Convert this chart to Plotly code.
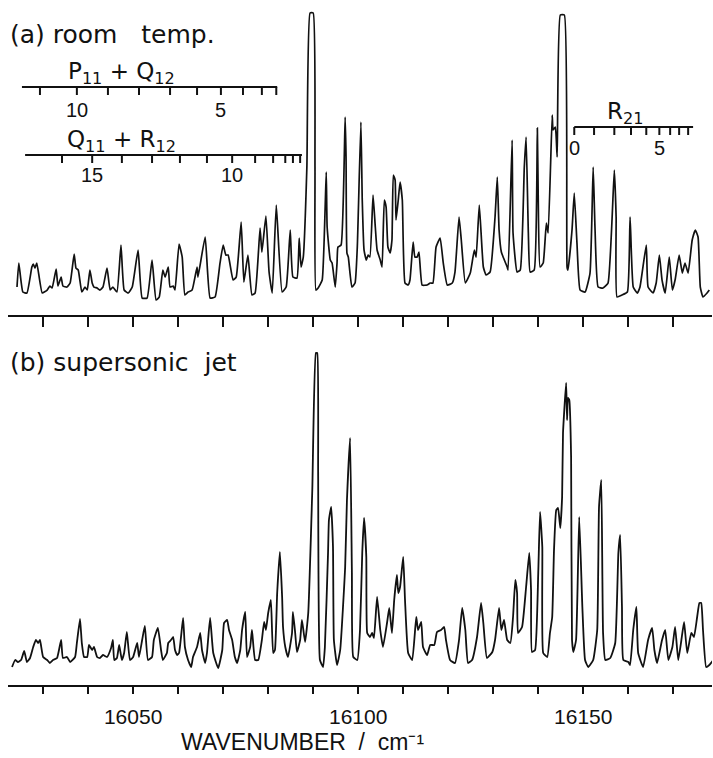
import plotly.graph_objects as go

# ---------------- data ----------------
# (a) room temperature spectrum: wavenumber (cm-1) and intensity (arb. units)
wn_a = [
    16024.2, 16024.6, 16025.5, 16026.4, 16027.5, 16027.8, 16028.2, 16028.6, 16029.8, 16030.9,
    16031.5, 16032.0, 16032.9, 16033.3, 16034.0, 16034.4, 16035.3, 16036.0, 16036.9, 16037.3,
    16037.8, 16038.6, 16039.3, 16039.8, 16040.4, 16040.9, 16041.3, 16042.0, 16042.6, 16043.3,
    16044.2, 16044.9, 16045.5, 16046.4, 16047.3, 16048.0, 16048.9, 16049.8, 16051.1, 16052.0,
    16053.1, 16054.2, 16055.1, 16055.8, 16056.6, 16057.1, 16057.8, 16058.2, 16058.9, 16059.3,
    16060.2, 16060.9, 16061.5, 16062.2, 16063.1, 16064.2, 16064.4, 16066.0, 16067.1, 16068.2,
    16069.3, 16070.0, 16070.6, 16071.1, 16072.2, 16072.9, 16074.0, 16074.6, 16075.5, 16076.4,
    16077.1, 16078.2, 16078.6, 16079.5, 16080.2, 16080.9, 16081.8, 16083.1, 16084.0, 16084.9,
    16085.5, 16086.4, 16086.9, 16087.3, 16087.8, 16088.6, 16089.3, 16090.0, 16090.4, 16090.6,
    16091.1, 16092.0, 16092.9, 16093.1, 16093.8, 16094.2, 16094.9, 16095.3, 16095.5, 16096.2,
    16097.1, 16097.3, 16097.5, 16097.8, 16098.6, 16099.3, 16099.8, 16100.6, 16100.9, 16101.3,
    16101.8, 16102.2, 16102.6, 16103.3, 16103.8, 16104.2, 16104.9, 16105.3, 16105.8, 16106.2,
    16106.6, 16107.1, 16107.5, 16107.8, 16108.2, 16108.4, 16108.9, 16109.3, 16109.8, 16110.4,
    16111.1, 16111.5, 16112.2, 16112.6, 16113.1, 16113.5, 16114.2, 16115.3, 16116.0, 16116.6, 16117.3,
    16118.2, 16118.9, 16119.8, 16120.9, 16121.5, 16122.4, 16122.9, 16123.8, 16124.9, 16125.8,
    16126.2, 16126.9, 16127.8, 16128.4, 16129.3, 16130.4, 16130.9, 16131.3, 16131.8, 16132.2,
    16133.1, 16133.3, 16134.2, 16134.4, 16135.3, 16136.0, 16136.9, 16137.3, 16137.8, 16138.2,
    16139.1, 16139.8, 16140.0, 16140.4, 16141.1, 16141.8, 16142.2, 16143.1, 16143.3, 16143.8,
    16144.2, 16144.9, 16145.8, 16146.4, 16146.6, 16147.5, 16148.0, 16148.6, 16149.3, 16150.4,
    16151.5, 16152.2, 16152.6, 16153.3, 16154.4, 16155.5, 16156.9, 16157.3, 16157.5, 16158.6,
    16159.8, 16160.4, 16161.1, 16162.0, 16162.6, 16164.0, 16164.4, 16165.5, 16166.2, 16166.9,
    16167.5, 16168.2, 16169.1, 16169.8, 16170.4, 16171.3, 16172.0, 16172.6, 16173.3, 16174.2,
    16174.9, 16175.5, 16176.0, 16176.6, 16177.5, 16178.0,
]
int_a = [
    13, 37, 8, 7, 33, 36, 32, 37, 7, 10,
    14, 12, 31, 14, 23, 14, 13, 17, 46, 32,
    30, 8, 13, 10, 30, 17, 13, 12, 10, 13,
    32, 10, 13, 8, 55, 10, 7, 13, 50, 2,
    2, 40, 0, 3, 30, 23, 33, 13, 14, 10,
    56, 43, 5, 8, 10, 33, 23, 63, 2, 3,
    37, 55, 45, 45, 20, 23, 78, 18, 45, 5,
    7, 72, 48, 84, 28, 7, 95, 8, 13, 70,
    23, 22, 62, 33, 43, 133, 287, 287, 133, 10,
    12, 20, 128, 73, 40, 37, 13, 37, 53, 55,
    183, 143, 47, 43, 13, 17, 53, 178, 100, 50,
    40, 45, 43, 105, 73, 50, 40, 33, 100, 93,
    53, 47, 60, 125, 120, 80, 100, 118, 100, 17,
    15, 20, 58, 43, 43, 48, 15, 15, 17, 17, 53,
    62, 37, 15, 17, 28, 83, 60, 17, 27, 50,
    43, 95, 33, 25, 28, 83, 123, 70, 48, 43,
    33, 30, 160, 67, 28, 30, 133, 163, 67, 28,
    30, 172, 100, 33, 37, 77, 67, 185, 170, 173,
    143, 285, 285, 33, 30, 70, 107, 57, 10, 8,
    27, 133, 73, 13, 12, 17, 130, 83, 3, 5,
    8, 83, 13, 7, 13, 55, 13, 7, 17, 45,
    20, 7, 43, 10, 20, 45, 27, 37, 27, 60,
    70, 63, 13, 3, 7, 10,
]

# (b) supersonic jet spectrum
wn_b = [
    16023.1, 16023.8, 16024.4, 16025.1, 16025.8, 16026.4, 16027.1, 16027.8, 16028.4, 16028.9,
    16029.3, 16030.0, 16030.9, 16031.5, 16032.2, 16033.1, 16034.0, 16034.4, 16035.3, 16036.0,
    16037.1, 16037.5, 16038.2, 16038.6, 16039.1, 16039.8, 16040.2, 16040.9, 16041.3, 16042.0,
    16042.6, 16043.3, 16044.2, 16045.1, 16045.5, 16045.8, 16046.4, 16046.9, 16047.5, 16048.0,
    16048.6, 16049.3, 16050.0, 16050.9, 16051.3, 16052.0, 16052.6, 16053.3, 16054.2, 16054.6,
    16055.5, 16056.2, 16056.6, 16057.5, 16057.8, 16058.4, 16058.9, 16059.3, 16059.8, 16060.2,
    16061.1, 16061.5, 16062.2, 16062.9, 16063.3, 16064.2, 16064.9, 16065.3, 16066.0, 16066.4,
    16067.1, 16067.8, 16068.9, 16069.8, 16070.2, 16070.9, 16071.3, 16072.0, 16072.6, 16073.1,
    16073.8, 16074.2, 16074.9, 16075.3, 16076.0, 16076.4, 16077.1, 16077.8, 16078.6, 16079.1,
    16079.5, 16080.0, 16080.6, 16081.1, 16081.5, 16082.0, 16082.6, 16083.1, 16083.3, 16083.8,
    16084.4, 16085.3, 16085.5, 16086.0, 16086.4, 16087.1, 16087.5, 16088.2, 16088.9, 16089.8,
    16090.6, 16090.9, 16091.1, 16091.5, 16092.2, 16092.6, 16093.3, 16093.5, 16094.0, 16094.4,
    16094.6, 16095.3, 16096.0, 16097.1, 16097.5, 16098.2, 16098.6, 16098.9, 16099.8, 16100.4,
    16100.9, 16101.3, 16101.8, 16102.0, 16102.6, 16103.1, 16103.5, 16104.2, 16104.9, 16105.5,
    16106.4, 16106.9, 16107.5, 16108.0, 16108.6, 16108.9, 16109.3, 16110.0, 16110.4, 16111.1,
    16112.0, 16112.9, 16113.3, 16114.0, 16114.4, 16115.3, 16116.0, 16116.9, 16117.5, 16118.4,
    16119.1, 16119.5, 16120.4, 16121.5, 16122.4, 16123.1, 16123.8, 16124.4, 16125.3, 16126.4,
    16127.3, 16127.8, 16128.6, 16129.8, 16130.4, 16131.3, 16131.8, 16132.4, 16133.1, 16133.8,
    16134.4, 16134.9, 16135.3, 16135.5, 16136.4, 16137.3, 16138.0, 16138.4, 16138.6, 16139.3,
    16140.0, 16140.4, 16140.9, 16141.1, 16142.0, 16142.6, 16143.1, 16143.5, 16144.0, 16144.4,
    16144.9, 16145.3, 16145.5, 16146.2, 16146.4, 16146.6, 16146.9, 16147.3, 16147.5, 16147.8,
    16148.4, 16149.1, 16149.8, 16150.4, 16151.1, 16152.2, 16153.1, 16153.5, 16154.0, 16154.4,
    16154.9, 16156.0, 16157.1, 16157.8, 16158.2, 16158.6, 16158.9, 16160.0, 16160.4, 16161.1,
    16161.8, 16162.2, 16163.3, 16164.4, 16165.3, 16165.8, 16166.4, 16167.5, 16168.2, 16168.9,
    16169.8, 16170.4, 16171.1, 16171.8, 16172.4, 16173.1, 16174.0, 16174.6, 16175.3, 16175.8,
    16176.2, 16176.6, 16177.3, 16178.0, 16178.9,
]
int_b = [
    13, 20, 18, 20, 29, 18, 22, 33, 40, 37,
    40, 23, 20, 17, 20, 22, 40, 22, 23, 18,
    23, 37, 61, 37, 23, 23, 35, 30, 33, 23,
    22, 25, 23, 32, 40, 20, 22, 35, 20, 27,
    48, 20, 23, 37, 23, 40, 54, 20, 23, 40,
    52, 30, 20, 27, 37, 40, 43, 30, 25, 27,
    62, 33, 20, 13, 23, 33, 47, 30, 17, 27,
    62, 27, 12, 30, 57, 60, 50, 40, 23, 17,
    30, 50, 68, 23, 33, 50, 20, 20, 40, 58,
    50, 67, 80, 27, 30, 87, 128, 83, 53, 33,
    23, 47, 68, 47, 28, 40, 60, 38, 67, 190,
    327, 327, 207, 20, 13, 33, 127, 160, 173, 133,
    40, 15, 30, 113, 180, 242, 107, 23, 20, 50,
    127, 162, 123, 47, 43, 47, 42, 83, 50, 33,
    57, 72, 47, 80, 105, 87, 93, 123, 80, 27,
    20, 63, 50, 58, 33, 25, 35, 35, 48, 50,
    53, 40, 20, 17, 40, 72, 50, 17, 20, 43,
    77, 57, 22, 28, 40, 72, 50, 60, 40, 37,
    63, 100, 87, 47, 53, 93, 127, 90, 28, 30,
    107, 168, 133, 27, 23, 47, 63, 130, 170, 172,
    152, 183, 247, 297, 260, 282, 280, 223, 40, 28,
    40, 163, 73, 20, 13, 20, 50, 173, 200, 47,
    20, 22, 37, 127, 145, 73, 20, 18, 15, 50,
    73, 27, 13, 40, 52, 30, 17, 40, 50, 20,
    33, 53, 20, 40, 58, 27, 47, 43, 63, 77,
    77, 50, 13, 15, 20,
]

# rotational assignment ladders (line positions in cm-1)
p11q12_J = [11, 10, 9, 8, 7, 6, 5, 4, 3, 2]
p11q12_wn = [16029.3, 16037.5, 16044.4, 16051.3, 16058.2, 16064.2, 16069.5, 16074.4, 16078.6, 16081.8]
p11q12_span = [16025.3, 16082.0]
p11q12_labels = [10, 5]

q11r12_J = [16, 15, 14, 13, 12, 11, 10, 9, 8, 7, 6, 5]
q11r12_wn = [16034.2, 16040.9, 16047.5, 16054.2, 16060.4, 16066.4, 16072.0, 16077.1, 16081.1, 16083.8, 16085.5, 16087.1]
q11r12_span = [16026.0, 16087.5]
q11r12_labels = [15, 10]

r21_J = [0, 1, 2, 3, 4, 5, 6, 7, 8]
r21_wn = [16148.0, 16152.4, 16156.9, 16160.6, 16164.0, 16166.9, 16169.3, 16171.3, 16173.3]
r21_span = [16148.0, 16174.4]
r21_labels = [0, 5]

branch_names = ["P<sub>11</sub> + Q<sub>12</sub>", "Q<sub>11</sub> + R<sub>12</sub>", "R<sub>21</sub>"]
branch_name_wn = [16047.5, 16047.4, 16159.3]

major_ticks = [16050, 16100, 16150]
major_labels = ["16050", "16100", "16150"]

assert len(wn_a) == len(int_a) and len(wn_b) == len(int_b)

# ---------------- figure ----------------
INK = "#111111"
XR = [16022.2, 16178.6]
TICK = 8  # ladder tick length (arb. units)

fig = go.Figure()
fig.add_trace(go.Scatter(x=wn_a, y=int_a, xaxis="x", yaxis="y", mode="lines",
                         line=dict(color=INK, width=1.7, shape="spline", smoothing=0.4),
                         hoverinfo="skip"))
fig.add_trace(go.Scatter(x=wn_b, y=int_b, xaxis="x2", yaxis="y2", mode="lines",
                         line=dict(color=INK, width=1.8, shape="spline", smoothing=0.4),
                         hoverinfo="skip"))


def ladder(span, wns, level):
    xs = [span[0], span[1], None]
    ys = [level, level, None]
    for w in wns:
        xs += [w, w, None]
        ys += [level, level - TICK, None]
    return xs, ys


annotations = []
ladders = [
    (p11q12_span, p11q12_wn, p11q12_J, p11q12_labels, 213, 23),
    (q11r12_span, q11r12_wn, q11r12_J, q11r12_labels, 145, 20),
    (r21_span, r21_wn, r21_J, r21_labels, 173, 21),
]
for i, (span, wns, Js, labs, level, num_off) in enumerate(ladders):
    xs, ys = ladder(span, wns, level)
    fig.add_trace(go.Scatter(x=xs, y=ys, xaxis="x", yaxis="y", mode="lines",
                             line=dict(color=INK, width=2), hoverinfo="skip"))
    for lab in labs:
        annotations.append(dict(x=wns[Js.index(lab)], y=level - num_off, xref="x", yref="y",
                                text=str(lab), showarrow=False,
                                font=dict(family="Liberation Sans", size=20, color=INK)))
    annotations.append(dict(x=branch_name_wn[i], y=level + 14, xref="x", yref="y",
                            text=branch_names[i], showarrow=False,
                            font=dict(family="DejaVu Sans", size=23, color=INK)))

annotations += [
    dict(x=0.0, y=0.949, xref="paper", yref="paper", xanchor="left", yanchor="middle",
         text="(a)\u00a0room\u00a0\u00a0\u00a0temp.", showarrow=False,
         font=dict(family="DejaVu Sans", size=25, color=INK)),
    dict(x=0.0, y=0.4715, xref="paper", yref="paper", xanchor="left", yanchor="middle",
         text="(b)\u00a0supersonic\u00a0\u00a0jet", showarrow=False,
         font=dict(family="DejaVu Sans", size=25, color=INK)),
    dict(x=0.419, y=-0.103, xref="paper", yref="paper", xanchor="center", yanchor="bottom",
         text="WAVENUMBER\u00a0\u00a0/\u00a0\u00a0cm\u207b\u00b9", showarrow=False, borderpad=0,
         font=dict(family="Liberation Sans", size=23, color=INK)),
]

common_x = dict(range=XR, showgrid=False, zeroline=False, showline=True, linecolor=INK,
                linewidth=2, ticks="outside", tickwidth=2, tickcolor=INK, fixedrange=True)

fig.update_layout(
    width=713, height=758,
    margin=dict(l=8, r=1, t=0, b=73),
    paper_bgcolor="white", plot_bgcolor="white",
    showlegend=False,
    xaxis=dict(common_x, anchor="y", ticklen=10, tick0=16030, dtick=10, showticklabels=False),
    yaxis=dict(domain=[0.5401, 1.0], anchor="x", range=[-15, 300], visible=False, fixedrange=True),
    xaxis2=dict(common_x, anchor="y2", ticklen=7, tickvals=major_ticks, ticktext=major_labels,
                showticklabels=True, ticklabelstandoff=5,
                tickfont=dict(family="Liberation Sans", size=21, color=INK),
                minor=dict(tick0=16030, dtick=10, ticks="outside", ticklen=7, tickwidth=2,
                           tickcolor=INK, showgrid=False)),
    yaxis2=dict(domain=[0.0, 0.5], anchor="x2", range=[-5, 337.5], visible=False, fixedrange=True),
    annotations=annotations,
)

fig.write_html("out.html", config={"displayModeBar": False},
               post_script="document.body.style.margin='0';")
